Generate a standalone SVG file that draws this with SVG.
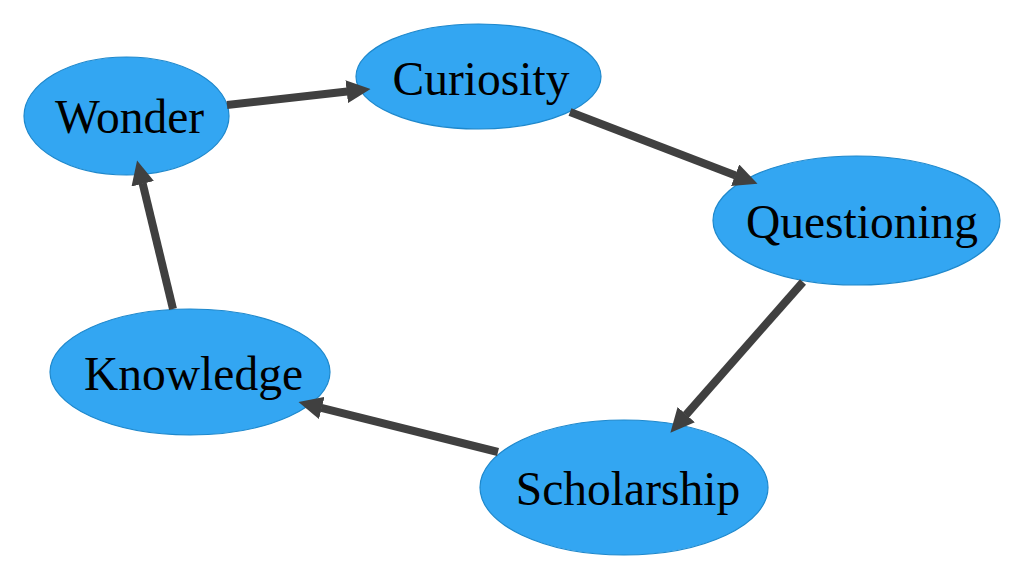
<svg xmlns="http://www.w3.org/2000/svg" width="1025" height="579" viewBox="0 0 1025 579">
<style>
.node ellipse{fill:#33A6F2;stroke:#1E88CC;stroke-width:1.2}
.node text{font-family:"Liberation Serif","Times New Roman",serif;font-size:47.5px;fill:#000;text-anchor:middle}
.edge{stroke:#404040;stroke-width:8;fill:none;marker-end:url(#ah)}
</style>
<defs>
<marker id="ah" markerUnits="userSpaceOnUse" markerWidth="24" markerHeight="23" viewBox="0 0 24 23" refX="0.5" refY="11.5" orient="auto">
<path d="M0,0 L24,11.5 L0,23 z" fill="#404040"/>
</marker>
</defs>
<rect width="1025" height="579" fill="#fff"/>
<g id="wonder" class="node"><ellipse cx="126.5" cy="116" rx="102.5" ry="59"/><text x="129.5" y="133">Wonder</text></g>
<g id="curiosity" class="node"><ellipse cx="478.5" cy="76.5" rx="122.5" ry="52.5"/><text x="481" y="95">Curiosity</text></g>
<g id="questioning" class="node"><ellipse cx="856.5" cy="220.5" rx="143.5" ry="64.5"/><text x="862" y="238">Questioning</text></g>
<g id="scholarship" class="node"><ellipse cx="624" cy="487.5" rx="144" ry="67.5"/><text x="628" y="505">Scholarship</text></g>
<g id="knowledge" class="node"><ellipse cx="190" cy="372" rx="140" ry="63"/><text x="193.5" y="390">Knowledge</text></g>
<g id="connectors">
<line class="edge" x1="227" y1="105" x2="347.2" y2="91.6"/>
<line class="edge" x1="570" y1="112" x2="735.6" y2="175.4"/>
<line class="edge" x1="803" y1="282" x2="685.9" y2="415"/>
<line class="edge" x1="498" y1="452" x2="321.3" y2="407.8"/>
<line class="edge" x1="173" y1="309" x2="142.6" y2="183.3"/>
</g>
</svg>
